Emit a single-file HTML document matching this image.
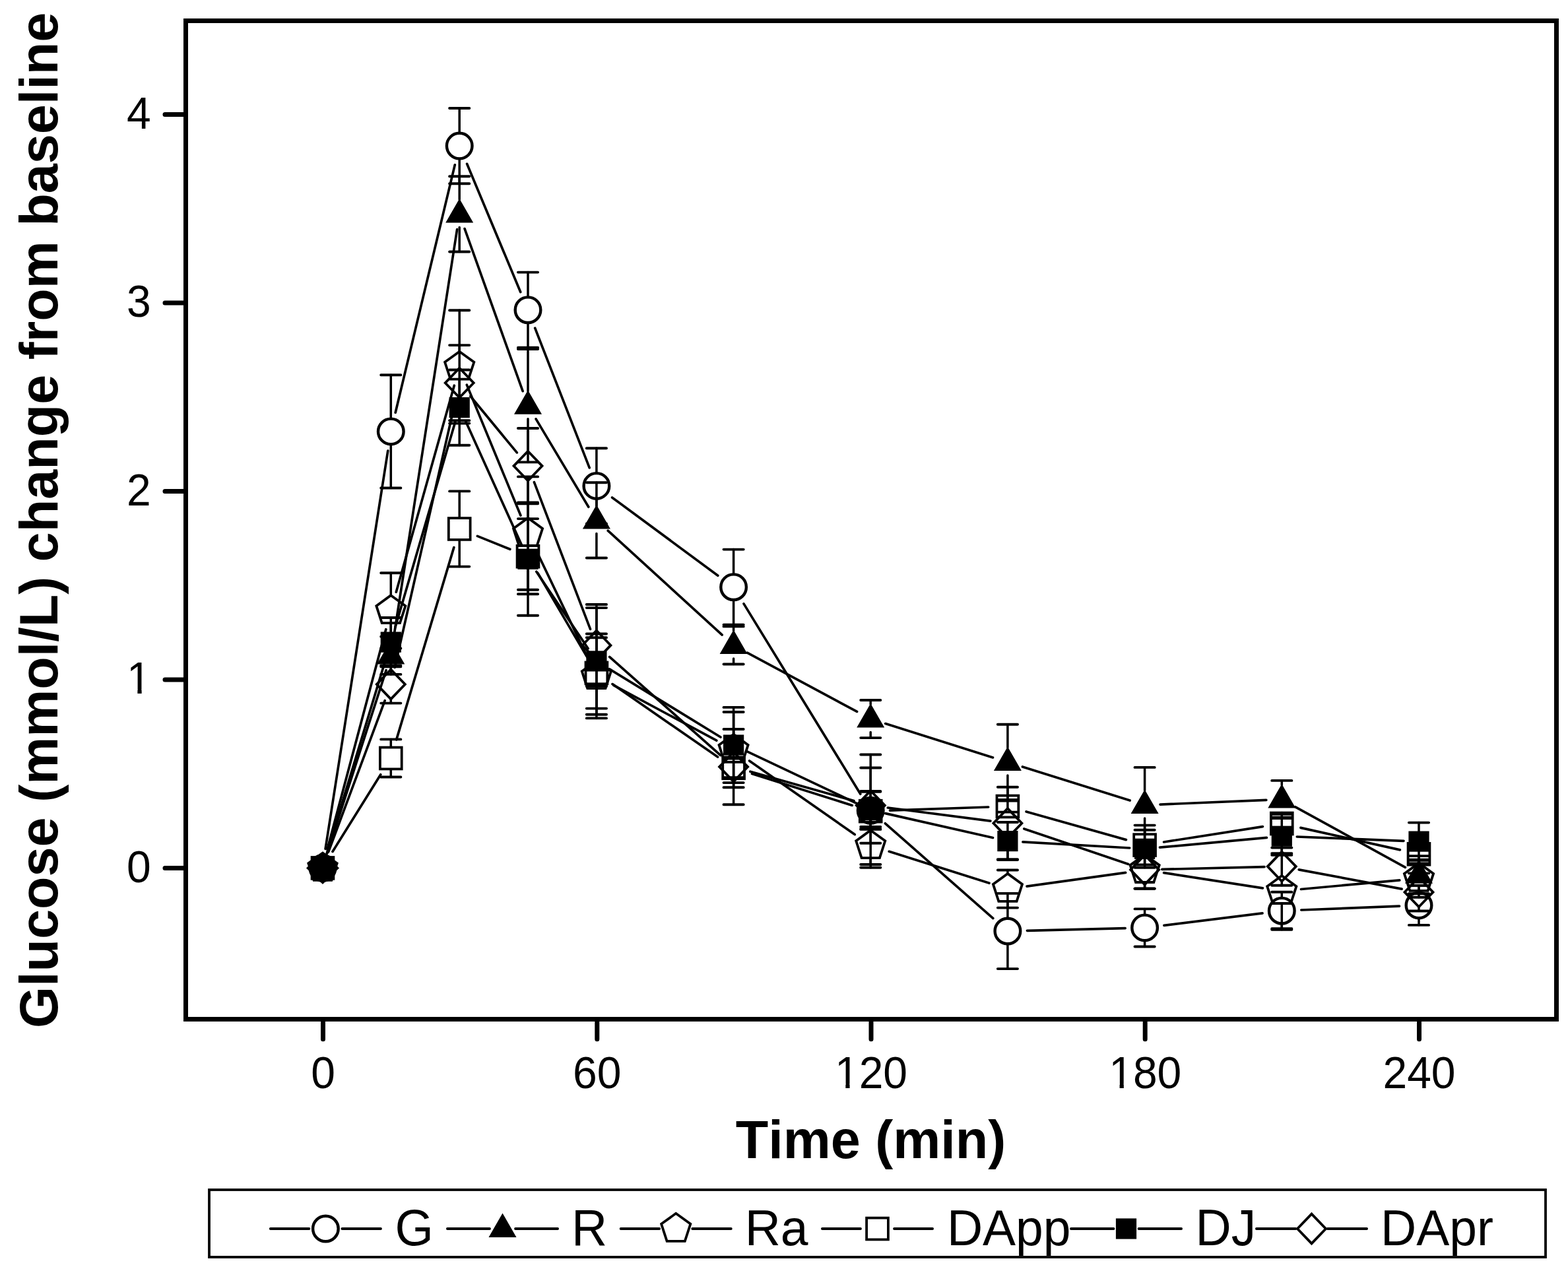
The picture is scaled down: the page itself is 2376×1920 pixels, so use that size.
<!DOCTYPE html>
<html><head><meta charset="utf-8"><title>Glucose change from baseline</title>
<style>html,body{margin:0;padding:0;background:#fff;overflow:hidden;}svg{display:block;}text{font-family:"Liberation Sans",Arial,Helvetica,sans-serif;fill:#000;font-kerning:none;}</style>
</head><body>
<svg width="2376" height="1920" viewBox="0 0 2376 1920">
<rect x="0" y="0" width="2376" height="1920" fill="#fff"/>
<g fill="none" stroke="#000" stroke-width="3.7" stroke-linecap="round">
<path d="M493.1 1286.3L587.8 683.0M599.2 625.2L689.3 249.8M707.6 248.3L788.7 442.5M810.7 497.2L893.2 708.9M927.6 753.9L1087.8 872.2M1127.0 914.9L1303.8 1203.2M1341.4 1247.8L1504.8 1391.6M1556.4 1410.3L1705.1 1406.6M1763.9 1402.3L1913.0 1383.8M1971.8 1379.0L2120.5 1373.1"/>
<path d="M495.7 1293.0L585.1 1015.7M595.9 970.1L692.6 347.7M704.1 346.6L792.1 592.7M812.1 634.9L891.8 768.2M921.2 804.2L1094.2 962.1M1132.3 989.1L1298.6 1078.4M1341.7 1096.6L1504.5 1147.9M1549.4 1162.0L1712.2 1213.0M1758.1 1219.1L1918.8 1212.4M1962.9 1222.8L2129.4 1314.4"/>
<path d="M496.0 1287.1L584.8 953.7M600.3 897.2L688.3 584.2M707.3 583.1L788.9 781.0M812.7 834.5L891.2 998.1M929.7 1038.3L1085.8 1122.2M1135.6 1152.9L1295.2 1264.6M1347.2 1290.3L1499.0 1338.3M1556.0 1343.1L1705.6 1322.3M1763.6 1322.7L1913.4 1345.8M1971.5 1347.5L2120.8 1333.8"/>
<path d="M504.0 1290.5L576.8 1173.8M600.7 1120.9L687.8 829.6M723.4 812.4L772.8 832.3M814.9 868.4L889.0 994.6M928.0 1036.6L1087.5 1147.1M1139.5 1172.6L1291.3 1220.4M1348.5 1228.2L1497.7 1223.0M1555.1 1230.0L1706.4 1272.6M1763.6 1276.0L1913.4 1252.6M1970.9 1254.4L2121.4 1287.9"/>
<path d="M495.2 1293.4L585.7 995.1M598.8 951.0L689.7 639.7M705.7 638.6L790.6 826.2M812.8 866.3L891.1 982.8M923.5 1013.9L1091.9 1117.0M1132.3 1138.8L1298.5 1217.6M1341.7 1232.6L1504.5 1269.5M1549.9 1275.9L1711.7 1285.0M1757.5 1284.2L1919.4 1269.3M1965.3 1268.0L2127.0 1274.3"/>
<path d="M497.7 1290.8L583.2 1061.7M598.2 1011.4L690.4 605.9M712.9 600.5L783.3 685.9M809.4 730.7L894.5 953.4M923.6 995.4L1091.9 1144.6M1136.9 1169.2L1293.9 1213.5M1345.3 1224.0L1500.9 1244.1M1551.8 1255.9L1709.7 1309.5M1760.9 1317.4L1916.0 1313.7M1968.2 1317.9L2124.1 1347.1"/>
</g>
<g fill="none" stroke="#000" stroke-linecap="round">
<path d="M592.3 633.4V568.2M592.3 674.4V739.5M696.2 200.6V164.0M696.2 241.6V278.2M800.0 449.2V412.6M800.0 490.2V526.8M903.9 715.9V679.3M903.9 756.9V793.5M1111.6 869.2V832.6M1111.6 910.2V946.8M1319.2 1207.8V1199.8M1319.2 1248.8V1256.9M1526.9 1390.5V1353.9M1526.9 1431.5V1468.1M1734.6 1385.4V1377.4M1734.6 1426.4V1434.5M1942.3 1359.7V1351.7M1942.3 1400.7V1408.8M2150.0 1351.4V1342.0M2150.0 1392.4V1401.9" stroke-width="3.5"/>
<path d="M577.2 568.2H607.4M577.2 739.5H607.4M681.1 164.0H711.3M681.1 278.2H711.3M784.9 412.6H815.1M784.9 526.8H815.1M888.8 679.3H919.0M888.8 793.5H919.0M1096.5 832.6H1126.7M1096.5 946.8H1126.7M1304.2 1199.8H1334.3M1304.2 1256.9H1334.3M1511.8 1353.9H1542.0M1511.8 1468.1H1542.0M1719.5 1377.4H1749.7M1719.5 1434.5H1749.7M1927.2 1351.7H1957.4M1927.2 1408.8H1957.4M2134.9 1342.0H2165.1M2134.9 1401.9H2165.1" stroke-width="3.9"/>
<path d="M592.3 971.4V964.8M592.3 1013.4V1021.9M696.2 302.4V267.3M696.2 344.4V381.5M800.0 592.8V529.1M800.0 634.8V700.4M903.9 766.4V731.3M903.9 808.4V845.5M1111.6 955.9V949.4M1111.6 997.9V1006.5M1319.2 1067.6V1061.0M1319.2 1109.6V1118.1M1526.9 1132.9V1097.8M1526.9 1174.9V1212.0M1734.6 1198.0V1162.9M1734.6 1240.0V1277.1M1942.3 1189.5V1182.9M1942.3 1231.5V1240.0M2150.0 1303.7V1297.1M2150.0 1345.7V1354.2" stroke-width="3.5"/>
<path d="M577.2 964.8H607.4M577.2 1021.9H607.4M681.1 267.3H711.3M681.1 381.5H711.3M784.9 529.1H815.1M784.9 700.4H815.1M888.8 731.3H919.0M888.8 845.5H919.0M1096.5 949.4H1126.7M1096.5 1006.5H1126.7M1304.2 1061.0H1334.3M1304.2 1118.1H1334.3M1511.8 1097.8H1542.0M1511.8 1212.0H1542.0M1719.5 1162.9H1749.7M1719.5 1277.1H1749.7M1927.2 1182.9H1957.4M1927.2 1240.0H1957.4M2134.9 1297.1H2165.1M2134.9 1354.2H2165.1" stroke-width="3.9"/>
<path d="M592.3 901.4V868.3M592.3 945.4V982.5M696.2 532.0V470.3M696.2 576.0V641.6M800.0 784.1V722.4M800.0 828.1V893.7M903.9 1000.5V960.5M903.9 1044.5V1088.4M1111.6 1112.1V1079.0M1111.6 1156.1V1193.2M1319.2 1257.4V1252.9M1319.2 1301.4V1310.0M1526.9 1323.1V1318.5M1526.9 1367.1V1375.6M1734.6 1294.3V1289.7M1734.6 1338.3V1346.8M1942.3 1326.2V1293.1M1942.3 1370.2V1407.3M2150.0 1307.1V1302.6M2150.0 1351.1V1359.7" stroke-width="3.5"/>
<path d="M577.2 868.3H607.4M577.2 982.5H607.4M681.1 470.3H711.3M681.1 641.6H711.3M784.9 722.4H815.1M784.9 893.7H815.1M888.8 960.5H919.0M888.8 1088.4H919.0M1096.5 1079.0H1126.7M1096.5 1193.2H1126.7M1304.2 1252.9H1334.3M1304.2 1310.0H1334.3M1511.8 1318.5H1542.0M1511.8 1375.6H1542.0M1719.5 1289.7H1749.7M1719.5 1346.8H1749.7M1927.2 1293.1H1957.4M1927.2 1407.3H1957.4M2134.9 1302.6H2165.1M2134.9 1359.7H2165.1" stroke-width="3.9"/>
<path d="M592.3 1131.5V1120.4M592.3 1166.5V1177.5M696.2 784.0V744.4M696.2 819.0V858.6M800.0 825.7V786.1M800.0 860.7V900.3M903.9 1002.4V966.2M903.9 1037.4V1073.6M1319.2 1211.7V1143.5M1319.2 1246.7V1314.8M1734.6 1263.1V1250.6M1734.6 1298.1V1310.5" stroke-width="3.5"/>
<path d="M577.2 1120.4H607.4M577.2 1177.5H607.4M681.1 744.4H711.3M681.1 858.6H711.3M784.9 786.1H815.1M784.9 900.3H815.1M888.8 966.2H919.0M888.8 1073.6H919.0M1096.5 1149.5H1126.7M1096.5 1178.1H1126.7M1304.2 1143.5H1334.3M1304.2 1314.8H1334.3M1511.8 1213.5H1542.0M1511.8 1230.6H1542.0M1719.5 1250.6H1749.7M1719.5 1310.5H1749.7M1927.2 1233.7H1957.4M1927.2 1262.3H1957.4M2134.9 1280.0H2165.1M2134.9 1308.5H2165.1" stroke-width="3.9"/>
<path d="M592.3 958.1V936.0M592.3 988.1V1010.2M696.2 602.6V560.5M696.2 632.6V674.7M800.0 832.2V761.5M800.0 862.2V932.8M903.9 986.9V921.1M903.9 1016.9V1082.7M1111.6 1114.0V1071.9M1111.6 1144.0V1186.1M1319.2 1212.5V1198.9M1319.2 1242.5V1256.0M1526.9 1259.6V1246.0M1526.9 1289.6V1303.1M1734.6 1271.3V1257.7M1734.6 1301.3V1314.8M1942.3 1252.2V1238.6M1942.3 1282.2V1295.7M2150.0 1260.1V1246.6M2150.0 1290.1V1303.7" stroke-width="3.5"/>
<path d="M577.2 936.0H607.4M577.2 1010.2H607.4M681.1 560.5H711.3M681.1 674.7H711.3M784.9 761.5H815.1M784.9 932.8H815.1M888.8 921.1H919.0M888.8 1082.7H919.0M1096.5 1071.9H1126.7M1096.5 1186.1H1126.7M1304.2 1198.9H1334.3M1304.2 1256.0H1334.3M1511.8 1246.0H1542.0M1511.8 1303.1H1542.0M1719.5 1257.7H1749.7M1719.5 1314.8H1749.7M1927.2 1238.6H1957.4M1927.2 1295.7H1957.4M2134.9 1246.6H2165.1M2134.9 1303.7H2165.1" stroke-width="3.9"/>
<path d="M592.3 1014.0V1008.5M592.3 1060.0V1065.6M696.2 557.2V523.1M696.2 603.2V637.3M800.0 683.1V649.0M800.0 729.1V763.2M903.9 954.9V916.0M903.9 1000.9V1039.9M1111.6 1139.1V1105.0M1111.6 1185.1V1219.2M1319.2 1197.6V1163.5M1319.2 1243.6V1277.7M1526.9 1224.5V1192.7M1526.9 1270.5V1302.2M1734.6 1295.0V1289.4M1734.6 1341.0V1346.5M1942.3 1290.1V1284.6M1942.3 1336.1V1341.7M2150.0 1328.9V1323.4M2150.0 1374.9V1380.5" stroke-width="3.5"/>
<path d="M577.2 1008.5H607.4M577.2 1065.6H607.4M681.1 523.1H711.3M681.1 637.3H711.3M784.9 649.0H815.1M784.9 763.2H815.1M888.8 916.0H919.0M888.8 1039.9H919.0M1096.5 1105.0H1126.7M1096.5 1219.2H1126.7M1304.2 1163.5H1334.3M1304.2 1277.7H1334.3M1511.8 1192.7H1542.0M1511.8 1302.2H1542.0M1719.5 1289.4H1749.7M1719.5 1346.5H1749.7M1927.2 1284.6H1957.4M1927.2 1341.7H1957.4M2134.9 1323.4H2165.1M2134.9 1380.5H2165.1" stroke-width="3.9"/>
</g>
<g>
<circle cx="592.3" cy="653.9" r="19.3" fill="none" stroke="#000" stroke-width="4.4"/>
<circle cx="696.2" cy="221.1" r="19.3" fill="none" stroke="#000" stroke-width="4.4"/>
<circle cx="800.0" cy="469.7" r="19.3" fill="none" stroke="#000" stroke-width="4.4"/>
<circle cx="903.9" cy="736.4" r="19.3" fill="none" stroke="#000" stroke-width="4.4"/>
<circle cx="1111.6" cy="889.7" r="19.3" fill="none" stroke="#000" stroke-width="4.4"/>
<circle cx="1319.2" cy="1228.3" r="19.3" fill="none" stroke="#000" stroke-width="4.4"/>
<circle cx="1526.9" cy="1411.0" r="19.3" fill="none" stroke="#000" stroke-width="4.4"/>
<circle cx="1734.6" cy="1405.9" r="19.3" fill="none" stroke="#000" stroke-width="4.4"/>
<circle cx="1942.3" cy="1380.2" r="19.3" fill="none" stroke="#000" stroke-width="4.4"/>
<circle cx="2150.0" cy="1371.9" r="19.3" fill="none" stroke="#000" stroke-width="4.4"/>
<polygon points="592.3,969.9 613.3,1006.4 571.3,1006.4" fill="#000"/>
<polygon points="696.2,300.9 717.2,337.4 675.2,337.4" fill="#000"/>
<polygon points="800.0,591.3 821.0,627.8 779.0,627.8" fill="#000"/>
<polygon points="903.9,764.9 924.9,801.4 882.9,801.4" fill="#000"/>
<polygon points="1111.6,954.4 1132.6,990.9 1090.6,990.9" fill="#000"/>
<polygon points="1319.2,1066.1 1340.2,1102.6 1298.2,1102.6" fill="#000"/>
<polygon points="1526.9,1131.4 1547.9,1167.9 1505.9,1167.9" fill="#000"/>
<polygon points="1734.6,1196.5 1755.6,1233.0 1713.6,1233.0" fill="#000"/>
<polygon points="1942.3,1188.0 1963.3,1224.5 1921.3,1224.5" fill="#000"/>
<polygon points="2150.0,1302.2 2171.0,1338.7 2129.0,1338.7" fill="#000"/>
<polygon points="592.3,902.2 614.4,918.2 606.0,944.2 578.7,944.2 570.3,918.2" fill="none" stroke="#000" stroke-width="3.8" stroke-linejoin="miter"/>
<polygon points="696.2,532.8 718.3,548.8 709.8,574.7 682.6,574.7 674.1,548.8" fill="none" stroke="#000" stroke-width="3.8" stroke-linejoin="miter"/>
<polygon points="800.0,784.9 822.1,800.9 813.7,826.8 786.4,826.8 778.0,800.9" fill="none" stroke="#000" stroke-width="3.8" stroke-linejoin="miter"/>
<polygon points="903.9,1001.3 925.9,1017.3 917.5,1043.2 890.2,1043.2 881.8,1017.3" fill="none" stroke="#000" stroke-width="3.8" stroke-linejoin="miter"/>
<polygon points="1111.6,1112.9 1133.6,1128.9 1125.2,1154.9 1097.9,1154.9 1089.5,1128.9" fill="none" stroke="#000" stroke-width="3.8" stroke-linejoin="miter"/>
<polygon points="1319.2,1258.2 1341.3,1274.3 1332.9,1300.2 1305.6,1300.2 1297.2,1274.3" fill="none" stroke="#000" stroke-width="3.8" stroke-linejoin="miter"/>
<polygon points="1526.9,1323.9 1549.0,1339.9 1540.6,1365.9 1513.3,1365.9 1504.9,1339.9" fill="none" stroke="#000" stroke-width="3.8" stroke-linejoin="miter"/>
<polygon points="1734.6,1295.1 1756.7,1311.1 1748.3,1337.0 1721.0,1337.0 1712.6,1311.1" fill="none" stroke="#000" stroke-width="3.8" stroke-linejoin="miter"/>
<polygon points="1942.3,1327.0 1964.4,1343.1 1955.9,1369.0 1928.7,1369.0 1920.2,1343.1" fill="none" stroke="#000" stroke-width="3.8" stroke-linejoin="miter"/>
<polygon points="2150.0,1307.9 2172.1,1323.9 2163.6,1349.9 2136.4,1349.9 2127.9,1323.9" fill="none" stroke="#000" stroke-width="3.8" stroke-linejoin="miter"/>
<rect x="575.9" y="1132.6" width="32.8" height="32.8" fill="none" stroke="#000" stroke-width="3.8"/>
<rect x="679.8" y="785.1" width="32.8" height="32.8" fill="none" stroke="#000" stroke-width="3.8"/>
<rect x="783.6" y="826.8" width="32.8" height="32.8" fill="none" stroke="#000" stroke-width="3.8"/>
<rect x="887.5" y="1003.5" width="32.8" height="32.8" fill="none" stroke="#000" stroke-width="3.8"/>
<rect x="1095.2" y="1147.4" width="32.8" height="32.8" fill="none" stroke="#000" stroke-width="3.8"/>
<rect x="1302.8" y="1212.8" width="32.8" height="32.8" fill="none" stroke="#000" stroke-width="3.8"/>
<rect x="1510.5" y="1205.6" width="32.8" height="32.8" fill="none" stroke="#000" stroke-width="3.8"/>
<rect x="1718.2" y="1264.2" width="32.8" height="32.8" fill="none" stroke="#000" stroke-width="3.8"/>
<rect x="1925.9" y="1231.6" width="32.8" height="32.8" fill="none" stroke="#000" stroke-width="3.8"/>
<rect x="2133.6" y="1277.9" width="32.8" height="32.8" fill="none" stroke="#000" stroke-width="3.8"/>
<rect x="576.7" y="957.5" width="31.2" height="31.2" fill="#000"/>
<rect x="680.6" y="602.0" width="31.2" height="31.2" fill="#000"/>
<rect x="784.4" y="831.6" width="31.2" height="31.2" fill="#000"/>
<rect x="888.3" y="986.3" width="31.2" height="31.2" fill="#000"/>
<rect x="1096.0" y="1113.4" width="31.2" height="31.2" fill="#000"/>
<rect x="1303.7" y="1211.9" width="31.2" height="31.2" fill="#000"/>
<rect x="1511.3" y="1259.0" width="31.2" height="31.2" fill="#000"/>
<rect x="1719.0" y="1270.7" width="31.2" height="31.2" fill="#000"/>
<rect x="1926.7" y="1251.6" width="31.2" height="31.2" fill="#000"/>
<rect x="2134.4" y="1259.5" width="31.2" height="31.2" fill="#000"/>
<polygon points="592.3,1014.6 613.8,1037.0 592.3,1059.4 570.8,1037.0" fill="none" stroke="#000" stroke-width="3.8" stroke-linejoin="miter"/>
<polygon points="696.2,557.8 717.7,580.2 696.2,602.6 674.7,580.2" fill="none" stroke="#000" stroke-width="3.8" stroke-linejoin="miter"/>
<polygon points="800.0,683.7 821.5,706.1 800.0,728.5 778.5,706.1" fill="none" stroke="#000" stroke-width="3.8" stroke-linejoin="miter"/>
<polygon points="903.9,955.5 925.4,977.9 903.9,1000.3 882.4,977.9" fill="none" stroke="#000" stroke-width="3.8" stroke-linejoin="miter"/>
<polygon points="1111.6,1139.7 1133.1,1162.1 1111.6,1184.5 1090.1,1162.1" fill="none" stroke="#000" stroke-width="3.8" stroke-linejoin="miter"/>
<polygon points="1319.2,1198.2 1340.8,1220.6 1319.2,1243.0 1297.8,1220.6" fill="none" stroke="#000" stroke-width="3.8" stroke-linejoin="miter"/>
<polygon points="1526.9,1225.1 1548.4,1247.5 1526.9,1269.9 1505.4,1247.5" fill="none" stroke="#000" stroke-width="3.8" stroke-linejoin="miter"/>
<polygon points="1734.6,1295.6 1756.1,1318.0 1734.6,1340.4 1713.1,1318.0" fill="none" stroke="#000" stroke-width="3.8" stroke-linejoin="miter"/>
<polygon points="1942.3,1290.7 1963.8,1313.1 1942.3,1335.5 1920.8,1313.1" fill="none" stroke="#000" stroke-width="3.8" stroke-linejoin="miter"/>
<polygon points="2150.0,1329.5 2171.5,1351.9 2150.0,1374.3 2128.5,1351.9" fill="none" stroke="#000" stroke-width="3.8" stroke-linejoin="miter"/>
<circle cx="489.0" cy="1315.4" r="21.5" fill="#000"/>
<polygon points="489.0,1290.9 514.0,1315.4 489.0,1339.9 464.0,1315.4" fill="#000"/>
<rect x="470.7" y="1297.1000000000001" width="36.6" height="36.6" fill="#000"/>
<polygon points="489.0,1290.3 512.9,1307.6 503.8,1335.7 474.2,1335.7 465.1,1307.6" fill="#000"/>
</g>
<rect x="281.5" y="31.5" width="2077" height="1513" fill="none" stroke="#000" stroke-width="7"/>
<path d="M250 1315.4H279M250 1029.9H279M250 744.4H279M250 458.9H279M250 173.4H279M489.5 1546V1574.8M904.8 1546V1574.8M1320.0 1546V1574.8M1735.2 1546V1574.8M2150.5 1546V1574.8" stroke="#000" stroke-width="7" stroke-linecap="round" fill="none"/>
<text x="0" y="0" font-size="66" text-anchor="end" transform="translate(228.70 1336.90) scale(1 1.04)">0</text>
<text x="0" y="0" font-size="66" text-anchor="end" transform="translate(228.70 1051.40) scale(1 1.04)">1</text><rect x="195.33" y="1044.77" width="13.06" height="8.13" fill="#fff"/><rect x="214.62" y="1044.77" width="12.75" height="8.13" fill="#fff"/>
<text x="0" y="0" font-size="66" text-anchor="end" transform="translate(228.70 765.90) scale(1 1.04)">2</text>
<text x="0" y="0" font-size="66" text-anchor="end" transform="translate(228.70 480.40) scale(1 1.04)">3</text>
<text x="0" y="0" font-size="66" text-anchor="end" transform="translate(228.70 194.90) scale(1 1.04)">4</text>
<text x="0" y="0" font-size="66" text-anchor="middle" transform="translate(489.50 1649.00) scale(1 1.04)">0</text>
<text x="0" y="0" font-size="66" text-anchor="middle" transform="translate(904.75 1649.00) scale(1 1.04)">60</text>
<text x="0" y="0" font-size="66" text-anchor="middle" transform="translate(1320.00 1649.00) scale(1 1.04)">120</text><rect x="1268.27" y="1642.37" width="13.06" height="8.13" fill="#fff"/><rect x="1287.57" y="1642.37" width="12.75" height="8.13" fill="#fff"/>
<text x="0" y="0" font-size="66" text-anchor="middle" transform="translate(1735.25 1649.00) scale(1 1.04)">180</text><rect x="1683.52" y="1642.37" width="13.06" height="8.13" fill="#fff"/><rect x="1702.82" y="1642.37" width="12.75" height="8.13" fill="#fff"/>
<text x="0" y="0" font-size="66" text-anchor="middle" transform="translate(2150.50 1649.00) scale(1 1.04)">240</text>
<text x="1319.50" y="1755.00" font-size="81" font-weight="bold" text-anchor="middle">Time (min)</text>
<text x="0.00" y="0.00" font-size="81" font-weight="bold" text-anchor="middle" transform="translate(87 788.3) rotate(-90)">Glucose (mmol/L) change from baseline</text>
<rect x="317" y="1803" width="2025" height="102" fill="none" stroke="#000" stroke-width="3.8"/>
<path d="M409.8 1862H468.4M518.4 1862H577.0M677.9 1862H742.0M781.0 1862H845.1M940.6 1862H999.2M1049.2 1862H1107.8M1245.9 1862H1304.0M1355.0 1862H1413.1M1622.9 1862H1687.5M1725.5 1862H1790.1M1903.9 1862H1963.5M2011.5 1862H2071.1" stroke="#000" stroke-width="3.8" stroke-linecap="round" fill="none"/>
<circle cx="493.4" cy="1862.0" r="19.3" fill="none" stroke="#000" stroke-width="4.4"/>
<text x="0" y="0" font-size="75" text-anchor="start" transform="translate(598.60 1887.00) scale(1 1.04)">G</text>
<polygon points="761.5,1838.5 782.5,1875.0 740.5,1875.0" fill="#000"/>
<text x="0" y="0" font-size="75" text-anchor="start" transform="translate(866.00 1887.00) scale(1 1.04)">R</text>
<polygon points="1024.2,1838.8 1046.3,1854.8 1037.8,1880.8 1010.6,1880.8 1002.1,1854.8" fill="none" stroke="#000" stroke-width="3.8" stroke-linejoin="miter"/>
<text x="0" y="0" font-size="75" text-anchor="start" transform="translate(1128.70 1887.00) scale(1 1.02)">Ra</text>
<rect x="1313.1" y="1845.6" width="32.8" height="32.8" fill="none" stroke="#000" stroke-width="3.8"/>
<text x="0" y="0" font-size="75" text-anchor="start" transform="translate(1434.90 1887.00) scale(1 1.02)">DApp</text>
<rect x="1690.9" y="1846.4" width="31.2" height="31.2" fill="#000"/>
<text x="0" y="0" font-size="75" text-anchor="start" transform="translate(1811.50 1887.00) scale(1 1.04)">DJ</text>
<polygon points="1987.5,1839.6 2009.0,1862.0 1987.5,1884.4 1966.0,1862.0" fill="none" stroke="#000" stroke-width="3.8" stroke-linejoin="miter"/>
<text x="0" y="0" font-size="75" text-anchor="start" transform="translate(2092.00 1887.00) scale(1 1.02)">DApr</text>
</svg>
</body></html>
